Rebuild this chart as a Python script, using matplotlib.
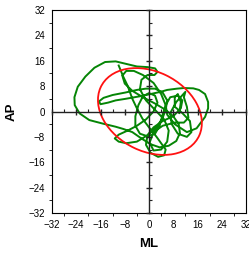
import matplotlib
matplotlib.use('Agg')
import matplotlib.pyplot as plt
from matplotlib.patches import Ellipse
import numpy as np

plt.rcParams['font.family'] = ['Liberation Sans', 'DejaVu Sans']

# sway trajectory (ML, AP)
ml = [-10, -8.5, -7, -5.5, -4, -2.2, 0, 2.5, 4,
      5.5, 5, 3, 0.5, -1, -0.5, 1.5, 4.5, 8, 10.5, 11, 9.5, 7, 5.5,
      6, 8.5, 12.5, 15.7, 18.5, 19.5, 19.5, 18.5, 16.5, 14.6, 11.5, 9.2, 6, 3.8, 0.5, -3, -7.7, -11,
      -13.5, -16, -16.5, -15, -12, -7.7, -4, -1.1, 2, 4.5, 6, 5.5,
      4.5, 2.5, -0.5, -4, -7.5, -10, -11.3, -10, -7, -4, -1, 1.5, 2.8, 2, 0, -2, -3.5, -4.5, -4.5,
      -3, -0.5, 2, 3.5, 4.5,
      5.5, 4, 1.5, -2, -5, -7.5, -8.8, -8, -5.5, -2, 2, 5.5, 8, 9.8, 10.2, 9, 6.5, 3.5, 0.5, -2.5, -5.5,
      -8.5, -11, -15.3, -19.7, -22.9, -24.5, -24.6, -23.5, -21, -18, -14.5, -11, -7.5, -4, -0.5, 2, 2.8,
      1.8, -0.5,
      -2.5, -3, -1, 2, 5, 6.5, 6, 4, 1.5, 0.2, 1.5, 4.5, 8.5, 11.5, 13, 12.5, 11.5, 12,
      9, 7, 7.5, 9.5, 12.5, 14, 13.5, 11, 8.5, 8.5, 9.5, 10.5, 10]
ap = [14.5, 11, 8, 4, 1, -2.2, -5, -8, -10,
      -12, -13.8, -14.3, -13, -10.5, -7.5, -5, -3, -1.5, 1, 3.5, 5, 4.5, 2,
      -1, -4, -6.5, -5.3, -1.7, 1, 3, 5.5, 6.8, 7.3, 7.4, 7.2, 6.8, 6.2, 5.5, 4.8, 4, 3.5,
      2.8, 2.3, 3.2, 4.3, 5.2, 6, 6.8, 7.2, 7.2, 6, 3.5, 0.5,
      -2, -5, -7.5, -9.5, -10, -9.5, -8.5, -7.3, -6, -4.5, -2.5, 0, 2.8, 5, 5.8, 4.8, 2, -1.5, -4.5,
      -7, -7.8, -7, -4.5, -1,
      2, 5.5, 9, 11.5, 12.8, 12.8, 11.3, 8.8, 6.5, 4.5, 2.5, 0.5, -1.5, -4, -6.8, -9.3, -10.8, -11.3, -10.3, -8.5, -6.5,
      -5.5, -4.8, -3.8, -2.7, -0.6, 2, 4.5, 7.8, 11, 13.8, 15.6, 15.8, 15, 14.2, 14, 13.6, 12.5,
      11.5, 11.5,
      10, 7, 3.5, 0.5, -2.5, -6, -9.5, -12, -12.3, -9.8, -6.5, -4.5, -3.5, -3.5, -2, 1.5, 4.5, 6.2,
      3, -0.5, -4, -7, -8, -6.5, -3, -0.5, 1.5, 4.5, 5.5, 3, -0.5]

# 95% confidence ellipse
ellipse_center = (0.3, 0.0)
ellipse_width = 35.9
ellipse_height = 25.2
ellipse_angle = -24.7

ticks = [-32, -24, -16, -8, 0, 8, 16, 24, 32]
minor = [-28, -20, -12, -4, 4, 12, 20, 28]

fig = plt.figure(figsize=(2.49, 2.58), dpi=100)
pos = [52 / 249, 45 / 258, 194 / 249, 203 / 258]
ax = fig.add_axes(pos)
ax.set_xlim(-32, 32)
ax.set_ylim(-32, 32)
ax.set_xticks(ticks)
ax.set_yticks(ticks)
ax.tick_params(length=0, labelsize=7, pad=5)
for s in ax.spines.values():
    s.set_linewidth(0.8)
ax.set_xlabel('ML', fontsize=9.5, fontweight='bold', labelpad=6)
ax.set_ylabel('AP', fontsize=9.5, fontweight='bold', labelpad=8)

# cross axes through the origin
ax2 = fig.add_axes(pos, sharex=ax, sharey=ax)
ax2.patch.set_visible(False)
ax2.spines['left'].set_position('zero')
ax2.spines['bottom'].set_position('zero')
ax2.spines['top'].set_visible(False)
ax2.spines['right'].set_visible(False)
for k in ['left', 'bottom']:
    ax2.spines[k].set_linewidth(1.0)
    ax2.spines[k].set_color('#222222')
ax2.set_xticks(ticks)
ax2.set_yticks(ticks)
ax2.set_xticks(minor, minor=True)
ax2.set_yticks(minor, minor=True)
ax2.tick_params(which='major', direction='inout', length=5, width=1.0,
                labelleft=False, labelbottom=False, color='#222222')
ax2.tick_params(which='minor', direction='in', length=2, width=0.8, color='#222222')

ax.plot(ml, ap, color='#058505', lw=1.4, solid_joinstyle='round', zorder=3)
ax.add_patch(Ellipse(ellipse_center, ellipse_width, ellipse_height, angle=ellipse_angle,
                     fill=False, edgecolor='#ff1111', lw=1.3, zorder=4))

fig.savefig('out.png', dpi=100)
